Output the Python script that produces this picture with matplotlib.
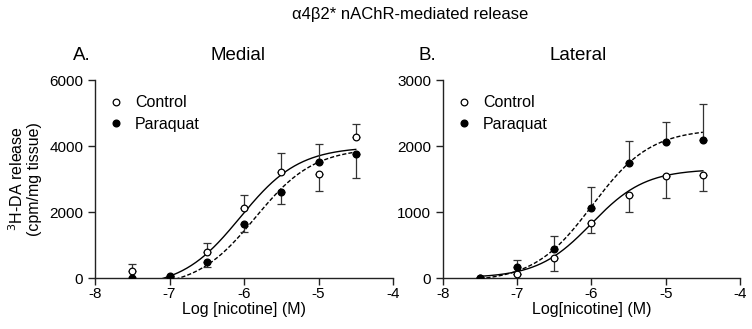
import numpy as np
import matplotlib
matplotlib.use("Agg")
import matplotlib.pyplot as plt

plt.rcParams['font.family'] = ['Liberation Sans', 'DejaVu Sans']

log_nic = [-7.5, -7.0, -6.5, -6.0, -5.5, -5.0, -4.5]

# Medial
med_ctrl = [200, 0, 800, 2130, 3200, 3150, 4260]
med_ctrl_up = [230, 0, 250, 390, 600, 0, 400]
med_ctrl_dn = [0, 0, 0, 0, 0, 500, 0]
med_pq = [0, 50, 475, 1650, 2620, 3510, 3760]
med_pq_up = [0, 0, 0, 0, 0, 560, 0]
med_pq_dn = [0, 0, 140, 270, 380, 0, 740]

# Lateral
lat_ctrl = [0, 60, 300, 830, 1260, 1545, 1565]
lat_ctrl_up = [0, 0, 0, 0, 0, 0, 0]
lat_ctrl_dn = [0, 0, 200, 150, 255, 335, 250]
lat_pq = [0, 160, 435, 1055, 1745, 2055, 2090]
lat_pq_up = [0, 120, 205, 320, 330, 315, 545]
lat_pq_dn = [0, 0, 0, 0, 0, 0, 0]

# Sigmoid fit parameters: bottom, top, logEC50, hill slope
med_ctrl_fit = [-300, 3980, -6.05, 1.1]
med_pq_fit = [-300, 3950, -5.85, 1.1]
lat_ctrl_fit = [0, 1650, -6.0, 1.2]
lat_pq_fit = [-60, 2260, -5.99, 1.1]


def hill(x, p):
    b, t, e, h = p
    return b + (t - b) / (1 + 10 ** (h * (e - x)))


fig = plt.figure(figsize=(7.52, 3.29), dpi=100)
axA = fig.add_axes([95 / 752, 51 / 329, 298 / 752, 198 / 329])
axB = fig.add_axes([443 / 752, 51 / 329, 297 / 752, 198 / 329])

xs = np.linspace(-7.5, -4.5, 300)


def panel(ax, ctrl, cu, cd, pq, pu, pd, fc, fp, ymax, yticks, xlabel):
    ax.plot(xs, hill(xs, fc), color='black', lw=1.0, ls='-', zorder=2)
    ax.plot(xs, hill(xs, fp), color='black', lw=1.0, ls=(0, (3, 1.5)), zorder=2)
    ax.errorbar(log_nic, ctrl, yerr=[cd, cu], fmt='none', ecolor='#333333',
                elinewidth=0.9, capsize=3, capthick=0.9, zorder=3)
    ax.errorbar(log_nic, pq, yerr=[pd, pu], fmt='none', ecolor='#333333',
                elinewidth=0.9, capsize=3, capthick=0.9, zorder=3)
    ax.plot(log_nic, ctrl, 'o', mfc='white', mec='black', mew=0.9, ms=4.8,
            ls='none', zorder=4, label='Control')
    ax.plot(log_nic, pq, 'o', mfc='black', mec='black', ms=4.8, ls='none',
            zorder=4, label='Paraquat')
    ax.set_xlim(-8, -4)
    ax.set_ylim(0, ymax)
    ax.set_xticks([-8, -7, -6, -5, -4])
    ax.set_xticklabels(['-8', '-7', '-6', '-5', '-4'])
    ax.set_yticks(yticks)
    ax.spines['top'].set_visible(False)
    ax.spines['right'].set_visible(False)
    for s in ('left', 'bottom'):
        ax.spines[s].set_linewidth(1.0)
        ax.spines[s].set_color('#222222')
    ax.tick_params(direction='out', length=5, width=1.0, labelsize=11,
                   color='#222222')
    ax.tick_params(axis='x', pad=1.5)
    ax.set_xlabel(xlabel, fontsize=11.5, labelpad=1)
    ax.legend(loc='upper left', bbox_to_anchor=(0.0, 0.98), frameon=False,
              fontsize=11.5, handletextpad=0.6, labelspacing=0.4,
              borderaxespad=0.3, handlelength=1.2)


panel(axA, med_ctrl, med_ctrl_up, med_ctrl_dn, med_pq, med_pq_up, med_pq_dn,
      med_ctrl_fit, med_pq_fit, 6000, [0, 2000, 4000, 6000], 'Log [nicotine] (M)')
panel(axB, lat_ctrl, lat_ctrl_up, lat_ctrl_dn, lat_pq, lat_pq_up, lat_pq_dn,
      lat_ctrl_fit, lat_pq_fit, 3000, [0, 1000, 2000, 3000], 'Log[nicotine] (M)')

axA.set_ylabel('$^{3}$H-DA release\n(cpm/mg tissue)', fontsize=11.5,
               labelpad=5, linespacing=1.1)

fig.text(410 / 752, 1 - 14 / 329, 'α4β2* nAChR-mediated release', ha='center',
         va='center', fontsize=12)
fig.text(82 / 752, 1 - 55 / 329, 'A.', ha='center', va='center', fontsize=13.5)
fig.text(238 / 752, 1 - 55 / 329, 'Medial', ha='center', va='center', fontsize=13.5)
fig.text(427 / 752, 1 - 55 / 329, 'B.', ha='center', va='center', fontsize=13.5)
fig.text(578 / 752, 1 - 55 / 329, 'Lateral', ha='center', va='center', fontsize=13.5)

fig.savefig('out.png', dpi=100)
